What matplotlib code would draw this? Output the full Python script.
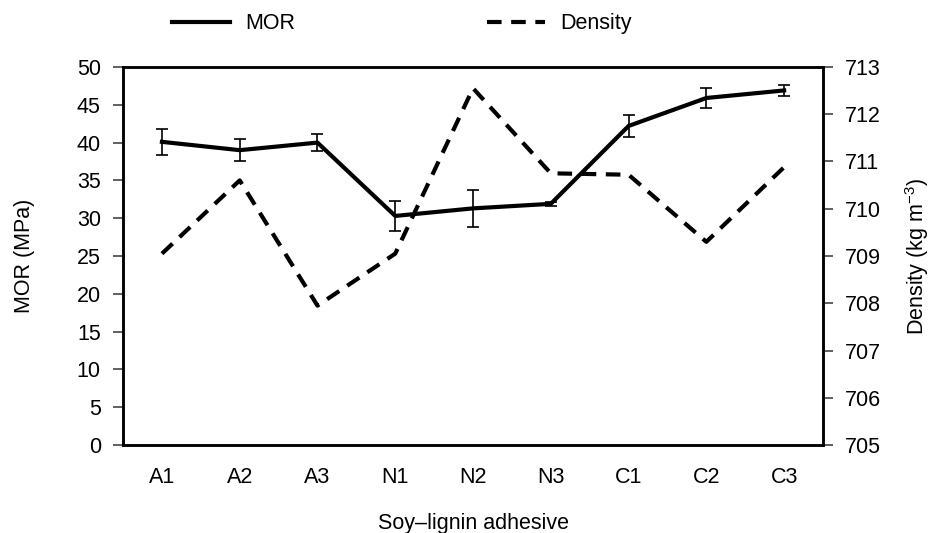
import matplotlib
matplotlib.use("Agg")
import matplotlib.pyplot as plt
from matplotlib.lines import Line2D

categories = ["A1", "A2", "A3", "N1", "N2", "N3", "C1", "C2", "C3"]
mor = [40.1, 39.0, 40.0, 30.3, 31.3, 31.9, 42.2, 45.9, 46.9]
mor_err = [1.7, 1.5, 1.1, 2.0, 2.4, 0.3, 1.4, 1.3, 0.7]
density = [709.05, 710.6, 707.95, 709.05, 712.55, 710.75, 710.72, 709.3, 710.88]

FS = 15.5
plt.rcParams['font.family'] = ['Liberation Sans', 'DejaVu Sans']
plt.rcParams['font.size'] = FS
plt.rcParams['mathtext.fontset'] = 'custom'
plt.rcParams['mathtext.rm'] = 'Liberation Sans'
plt.rcParams['mathtext.it'] = 'Liberation Sans'

fig = plt.figure(figsize=(9.35, 5.33), dpi=100)
ax = fig.add_axes([0.1316, 0.1651, 0.8802 - 0.1316, 0.8743 - 0.1651])
ax2 = ax.twinx()

x = list(range(len(categories)))
ax.errorbar(x, mor, yerr=mor_err, color='black', lw=3.0, elinewidth=1.2,
            capsize=4.5, capthick=1.2, zorder=3)
ax2.plot(x, density, color='black', lw=3.0, linestyle=(0, (3.5, 2.3)),
         dash_capstyle='butt')

ax.set_xlim(-0.5, 8.5)
ax.set_ylim(0, 50)
ax.set_yticks(range(0, 51, 5))
ax2.set_ylim(705, 713)
ax2.set_yticks(range(705, 714))
ax.set_xticks(x)
ax.set_xticklabels(categories)

for a in (ax, ax2):
    for s in a.spines.values():
        s.set_linewidth(1.8)
ax.tick_params(axis='x', length=0, pad=16, labelsize=FS)
ax.tick_params(axis='y', length=7, width=1.2, direction='out', pad=9, labelsize=FS, color='#444444')
ax2.tick_params(axis='y', length=7, width=1.2, direction='out', pad=9, labelsize=FS, color='#444444')

ax.set_xlabel("Soy\u2013lignin adhesive", labelpad=18)
ax.set_ylabel("MOR (MPa)", labelpad=30)
ax2.set_ylabel(r"Density (kg m$^{-3}$)", labelpad=16)

handles = [Line2D([], [], color='black', lw=3.0),
           Line2D([], [], color='black', lw=3.0, linestyle=(0, (3.5, 2.3)))]
fig.legend(handles, ["MOR", "Density"], loc='center left',
           bbox_to_anchor=(0.163, 0.955), ncol=2, frameon=False,
           handlelength=2.7, handletextpad=0.7, columnspacing=8.9, fontsize=FS)

fig.savefig("out.png", dpi=100)
